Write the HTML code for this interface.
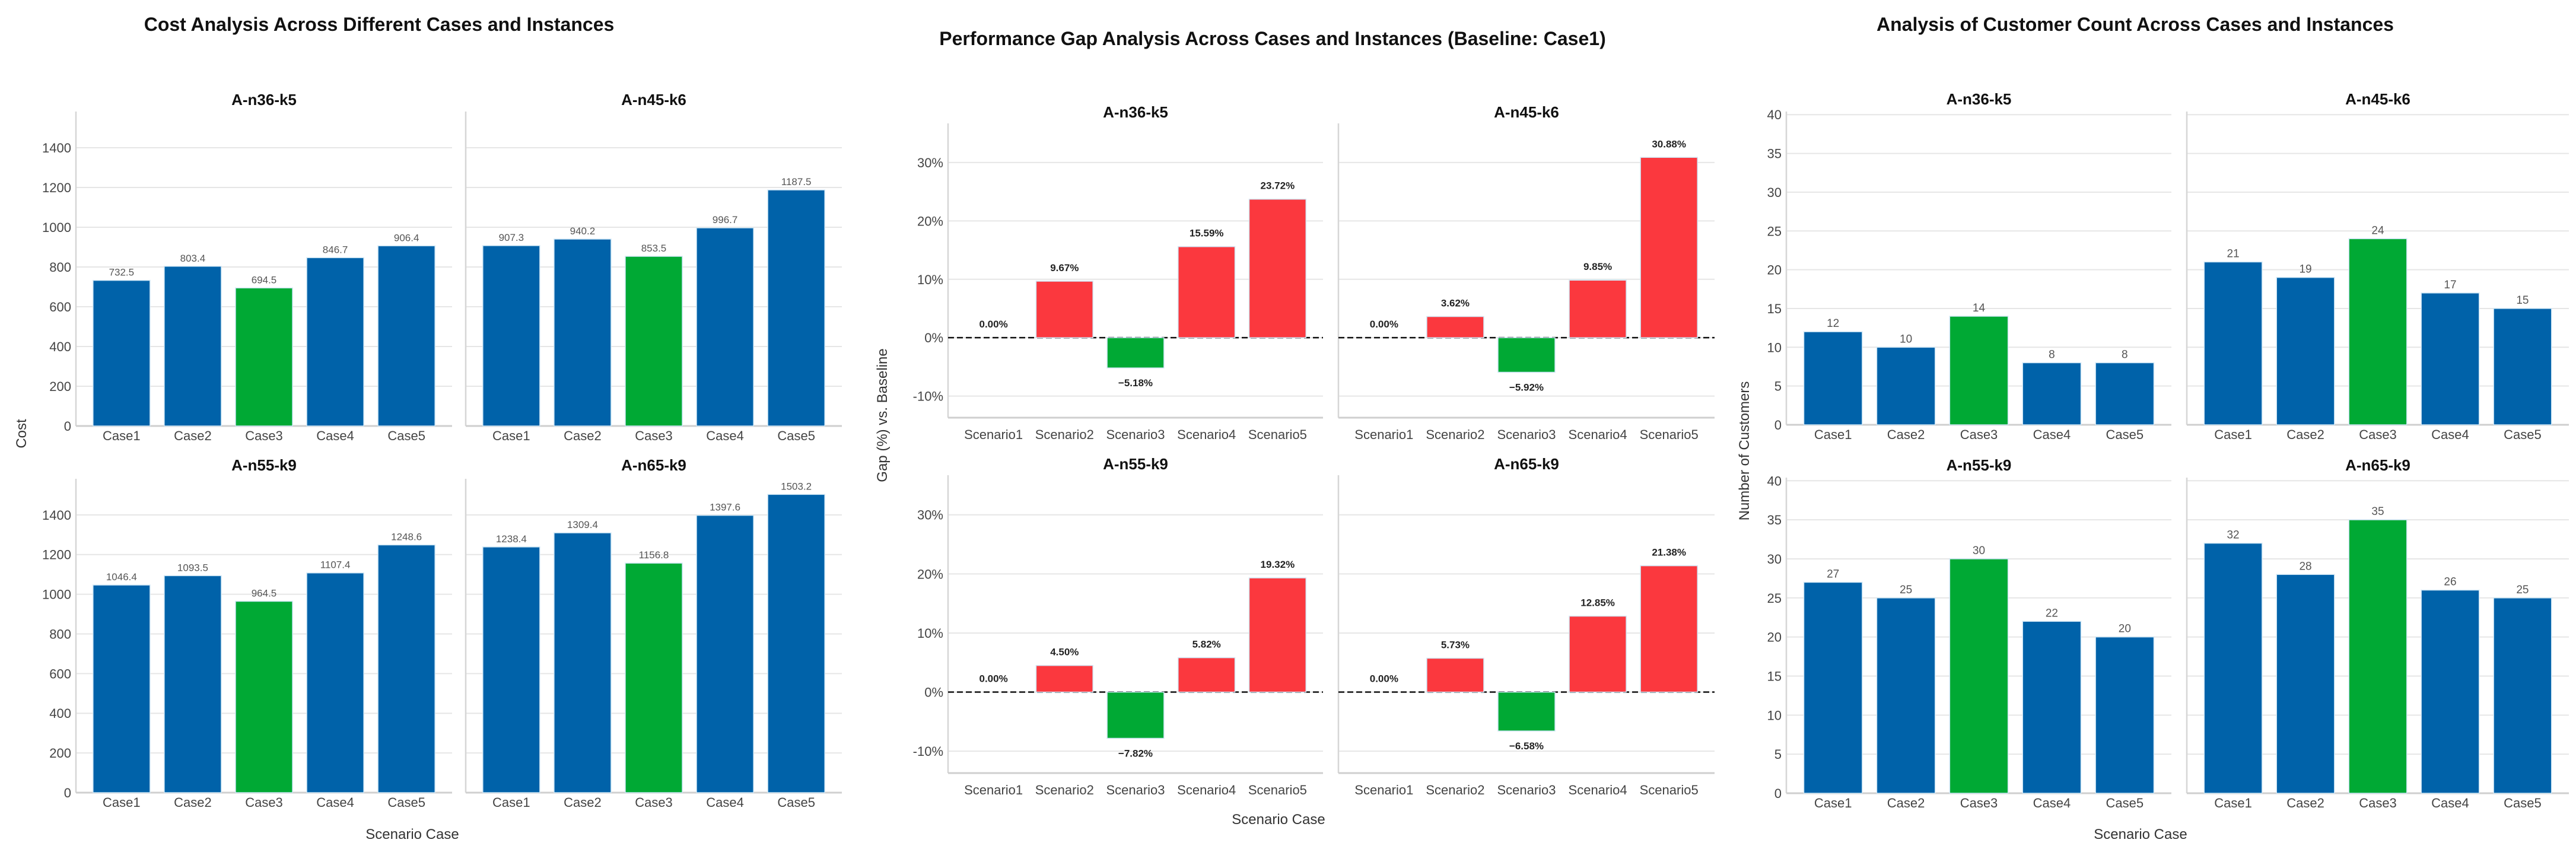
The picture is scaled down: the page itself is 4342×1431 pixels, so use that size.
<!DOCTYPE html>
<html><head><meta charset="utf-8">
<style>
html,body{margin:0;padding:0;background:#fff;}
svg{display:block;font-family:"Liberation Sans",Arial,sans-serif;}
</style></head>
<body>
<svg id="chart" width="4342" height="1431" viewBox="0 0 4342 1431" xmlns="http://www.w3.org/2000/svg">
<text x="639" y="52" text-anchor="middle" font-size="32" font-weight="bold" fill="#111">Cost Analysis Across Different Cases and Instances</text>
<text x="2145" y="76" text-anchor="middle" font-size="32" font-weight="bold" fill="#111">Performance Gap Analysis Across Cases and Instances (Baseline: Case1)</text>
<text x="3599" y="52" text-anchor="middle" font-size="32" font-weight="bold" fill="#111">Analysis of Customer Count Across Cases and Instances</text>
<text x="0" y="0" transform="translate(44,731) rotate(-90)" text-anchor="middle" font-size="24" fill="#333">Cost</text>
<text x="0" y="0" transform="translate(1495,700) rotate(-90)" text-anchor="middle" font-size="24" fill="#333">Gap (%) vs. Baseline</text>
<text x="0" y="0" transform="translate(2948,760) rotate(-90)" text-anchor="middle" font-size="24" fill="#333">Number of Customers</text>
<text x="695" y="1414" text-anchor="middle" font-size="24" fill="#333">Scenario Case</text>
<text x="2155" y="1389" text-anchor="middle" font-size="24" fill="#333">Scenario Case</text>
<text x="3608" y="1414" text-anchor="middle" font-size="24" fill="#333">Scenario Case</text>
</svg>
<script>
const instances = ["A-n36-k5","A-n45-k6","A-n55-k9","A-n65-k9"];
const caseLabels = ["Case1","Case2","Case3","Case4","Case5"];
const scenarioLabels = ["Scenario1","Scenario2","Scenario3","Scenario4","Scenario5"];
const costN36 = [732.5, 803.4, 694.5, 846.7, 906.4];
const costN45 = [907.3, 940.2, 853.5, 996.7, 1187.5];
const costN55 = [1046.4, 1093.5, 964.5, 1107.4, 1248.6];
const costN65 = [1238.4, 1309.4, 1156.8, 1397.6, 1503.2];
const gapN36 = [0.00, 9.67, -5.18, 15.59, 23.72];
const gapN45 = [0.00, 3.62, -5.92, 9.85, 30.88];
const gapN55 = [0.00, 4.50, -7.82, 5.82, 19.32];
const gapN65 = [0.00, 5.73, -6.58, 12.85, 21.38];
const custN36 = [12, 10, 14, 8, 8];
const custN45 = [21, 19, 24, 17, 15];
const custN55 = [27, 25, 30, 22, 20];
const custN65 = [32, 28, 35, 26, 25];
const costTicks = [0,200,400,600,800,1000,1200,1400];
const gapTicks = [-10,0,10,20,30];
const custTicks = [0,5,10,15,20,25,30,35,40];

const NS = "http://www.w3.org/2000/svg";
const svg = document.getElementById("chart");
const BLUE="#0062a9", GREEN="#00a934", RED="#fb383e";
function mk(tag, attrs, parent){
  const e=document.createElementNS(NS,tag);
  for(const k in attrs) e.setAttribute(k,attrs[k]);
  (parent||svg).appendChild(e); return e;
}

function panel(cfg){
  const g = mk("g",{});
  
  
  const {x0,x1,yTop,yBot,ymin,ymax}=cfg;
  const yS = v => yBot - (v-ymin)/(ymax-ymin)*(yBot-yTop);
  const step=(x1-x0)/5.28;
  const xC = i => x0 + (i+0.64)*step;
  // gridlines and ticks
  cfg.ticks.forEach(t=>{
    const y=yS(t);
    const gl=mk("line",{x1:x0,x2:x1,y1:y,y2:y,stroke:"#e6e6e6","stroke-width":2},g);
    
    
    if(cfg.showY){
      const tl=mk("text",{x:x0-8,y:y+8,"text-anchor":"end","font-size":22,fill:"#444"},g);
      tl.textContent=cfg.tickFmt(t);
      
      
    }
  });
  const ls=mk("line",{x1:x0,x2:x0,y1:yTop,y2:yBot,stroke:"#d6d6d6","stroke-width":2.5},g);
  
  
  const bs=mk("line",{x1:x0,x2:x1,y1:yBot,y2:yBot,stroke:"#cfcfcf","stroke-width":3},g);
  
  
  if(cfg.zeroLine){
    const zl=mk("line",{x1:x0,x2:x1,y1:yS(0),y2:yS(0),stroke:"#111","stroke-width":2.5,"stroke-dasharray":"10,5"},g);
    
    
  }
  const t=mk("text",{x:(x0+x1)/2,y:cfg.titleY,"text-anchor":"middle","font-size":26,"font-weight":"bold",fill:"#111"},g);
  t.textContent=cfg.title;
  
  
  const bw=step*0.8;
  cfg.values.forEach((v,i)=>{
    const cx=xC(i);
    const ya=yS(Math.max(v,0)), yb=yS(Math.min(v,0));
    const r=mk("rect",{x:cx-bw/2,y:ya,width:bw,height:Math.max(yb-ya,0),fill:cfg.color(v,i),stroke:v===0?"#dddddd":"#cfe6f5","stroke-width":1.5},g);
    
    
    const ly = v<0 ? yb+cfg.labelOff+8 : ya-cfg.labelOff+6;
    const vl=mk("text",{x:cx,y:ly,"text-anchor":"middle","font-size":cfg.valSize,"font-weight":cfg.valBold?"bold":"normal",fill:cfg.valBold?"#222":"#555"},g);
    vl.textContent=cfg.valFmt(v);
    
    
    const xl=mk("text",{x:cx,y:yBot+cfg.xLabOff,"text-anchor":"middle","font-size":22,fill:"#444"},g);
    xl.textContent=cfg.labels[i];
    
    
  });
}

const costData=[costN36,costN45,costN55,costN65];
const gapData=[gapN36,gapN45,gapN55,gapN65];
const custData=[custN36,custN45,custN55,custN65];
const minColor = arr => (v,i)=> v===Math.min(...arr)?GREEN:BLUE;
const maxColor = arr => (v,i)=> v===Math.max(...arr)?GREEN:BLUE;

const cols1=[[128,762],[785,1419]], rows1=[[188,718,168],[807,1336,784]];
const cols2=[[1598,2230],[2256,2890]], rows2=[[208,704,189],[801,1303,782]];
const cols3=[[3011,3660],[3686,4330]], rows3=[[188,716,167],[805,1337,784]];

for(let k=0;k<4;k++){
  const c=k%2, r=Math.floor(k/2);
  panel({name:"cost-panel-"+instances[k].toLowerCase(),x0:cols1[c][0],x1:cols1[c][1],yTop:rows1[r][0],yBot:rows1[r][1],titleY:rows1[r][2]+9,
    ymin:0,ymax:1582,ticks:costTicks,showY:c===0,tickFmt:t=>String(t),title:instances[k],values:costData[k],labels:caseLabels,
    color:minColor(costData[k]),valFmt:v=>v.toFixed(1),valSize:17,valBold:false,labelOff:14,xLabOff:24});
  panel({name:"gap-panel-"+instances[k].toLowerCase(),x0:cols2[c][0],x1:cols2[c][1],yTop:rows2[r][0],yBot:rows2[r][1],titleY:rows2[r][2]+9,
    ymin:-13.7,ymax:36.7,ticks:gapTicks,showY:c===0,tickFmt:t=>t+"%",title:instances[k],values:gapData[k],labels:scenarioLabels,
    color:(v)=>v<0?GREEN:RED,valFmt:v=>(v<0?"\u2212"+Math.abs(v).toFixed(2):v.toFixed(2))+"%",valSize:17,valBold:true,labelOff:23,xLabOff:36,zeroLine:true});
  panel({name:"customer-panel-"+instances[k].toLowerCase(),x0:cols3[c][0],x1:cols3[c][1],yTop:rows3[r][0],yBot:rows3[r][1],titleY:rows3[r][2]+9,
    ymin:0,ymax:40.4,ticks:custTicks,showY:c===0,tickFmt:t=>String(t),title:instances[k],values:custData[k],labels:caseLabels,
    color:maxColor(custData[k]),valFmt:v=>String(v),valSize:19,valBold:false,labelOff:14,xLabOff:24});
}
</script>
</body></html>
